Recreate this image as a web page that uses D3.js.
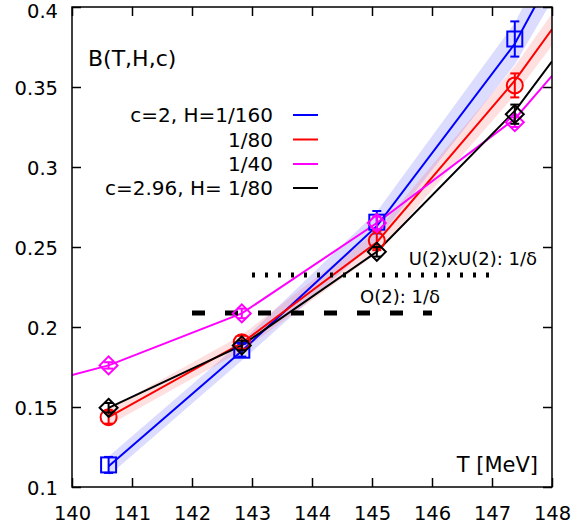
<!DOCTYPE html>
<html>
<head>
<meta charset="utf-8">
<script src="https://cdn.jsdelivr.net/npm/d3@7"></script>
<style>
body{margin:0;background:#fff;}
text{font-family:"DejaVu Sans",sans-serif;}
</style>
</head>
<body>
<svg id="chart"></svg>
<script>
// data
const temps = [140.61, 142.83, 145.08, 147.38];
const xTicks = [140, 141, 142, 143, 144, 145, 146, 147, 148];
const yTicks = [0.1, 0.15, 0.2, 0.25, 0.3, 0.35, 0.4];
const seriesNames = ["c=2, H=1/160", "1/80", "1/40", "c=2.96, H= 1/80"];

const blueVals = [0.1138, 0.1855, 0.2655, 0.380];
const blueErr = [0.005, 0.004, 0.007, 0.011];
const redVals = [0.1436, 0.1905, 0.2540, 0.351];
const redErr = [0.004, 0.004, 0.006, 0.0075];
const magVals = [0.1760, 0.2085, 0.2650, 0.328];
const magErr = [0.002, 0.003, 0.004, 0.003];
const blackVals = [0.1495, 0.1885, 0.2470, 0.333];
const blackErr = [0.003, 0.003, 0.003, 0.006];

// fit curves
const blueCurveT = [140.61, 142.83, 145.08, 147.38, 148];
const blueCurveB = [0.113, 0.185, 0.263, 0.377, 0.42];
const blueBand = [0.006, 0.006, 0.009, 0.013, 0.016];
const redCurveT = [140.61, 142.83, 145.08, 147.38, 148];
const redCurveB = [0.1436, 0.190, 0.253, 0.354, 0.386];
const redBand = [0.005, 0.005, 0.007, 0.009, 0.010];
const magCurveT = [140, 140.61, 142.83, 145.08, 147.38, 148];
const magCurveB = [0.170, 0.176, 0.2085, 0.265, 0.330, 0.357];
const blackCurveT = [140.61, 142.83, 145.08, 147.38, 148];
const blackCurveB = [0.1495, 0.1885, 0.247, 0.335, 0.366];

// reference exponents
const refLabels = ["U(2)xU(2): 1/δ", "O(2): 1/δ"];
const refVals = [0.2325, 0.2088];
const refFrom = [143, 142];
const refTo = [147, 146];

const W = 583, H = 529;
const margin = {left:72, right:31, top:7, bottom:42};
const inner_w = W - margin.left - margin.right;
const inner_h = H - margin.top - margin.bottom;

const svg = d3.select("#chart").attr("width", W).attr("height", H);

const x = d3.scaleLinear().domain([140, 148]).range([0, inner_w]);
const y = d3.scaleLinear().domain([0.1, 0.4]).range([inner_h, 0]);

const chart = svg.append("g")
    .attr("transform", `translate(${margin.left},${margin.top})`);

svg.append("defs").append("clipPath").attr("id", "clip")
    .append("rect").attr("width", inner_w).attr("height", inner_h);

// axes with inward ticks on all sides
const fs = "19.5px";
const xAxis = chart.append("g").attr("transform", `translate(0,${inner_h})`)
    .call(d3.axisBottom(x).tickValues(xTicks).tickSizeInner(-9).tickSizeOuter(0).tickPadding(19)
        .tickFormat(d3.format("d")));
const yAxis = chart.append("g")
    .call(d3.axisLeft(y).tickValues(yTicks).tickSizeInner(-9).tickSizeOuter(0).tickPadding(14)
        .tickFormat(d => String(+d.toFixed(2))));
// top label sits against the edge, nudge it down a little
yAxis.selectAll(".tick text").attr("dy", d => d == 0.4 ? "0.55em" : "0.4em");
chart.append("g")
    .call(d3.axisTop(x).tickValues(xTicks).tickSizeInner(-9).tickSizeOuter(0).tickFormat(""));
chart.append("g").attr("transform", `translate(${inner_w},0)`)
    .call(d3.axisRight(y).tickValues(yTicks).tickSizeInner(-9).tickSizeOuter(0).tickFormat(""));
chart.selectAll(".domain").remove();
chart.selectAll(".tick line").attr("stroke", "#000").attr("stroke-width", 1.5);
chart.selectAll(".tick text").attr("font-size", fs).attr("fill", "#000")
    .attr("font-family", "DejaVu Sans");

const plot = chart.append("g").attr("clip-path", "url(#clip)");

// bands
function band(ts, bs, hw, fill){
    const pts = ts.map((t, i) => ({t:t, b:bs[i], w:hw[i]}));
    plot.append("path").datum(pts)
        .attr("d", d3.area().x(d => x(d.t)).y0(d => y(d.b - d.w)).y1(d => y(d.b + d.w)))
        .attr("fill", fill).attr("stroke", "none");
}
band(blueCurveT, blueCurveB, blueBand, "rgba(60,60,255,0.18)");
band(redCurveT, redCurveB, redBand, "rgba(255,60,60,0.16)");

// lines
function curve(ts, bs, color){
    const pts = ts.map((t, i) => ({t:t, b:bs[i]}));
    plot.append("path").datum(pts)
        .attr("d", d3.line().x(d => x(d.t)).y(d => y(d.b)))
        .attr("fill", "none").attr("stroke", color).attr("stroke-width", 2);
}
curve(blueCurveT, blueCurveB, "#0000ff");
curve(redCurveT, redCurveB, "#ff0000");
curve(magCurveT, magCurveB, "#ff00ff");
curve(blackCurveT, blackCurveB, "#000000");

// reference lines
chart.append("line")
    .attr("x1", x(refFrom[0])).attr("x2", x(refTo[0]))
    .attr("y1", y(refVals[0])).attr("y2", y(refVals[0]))
    .attr("stroke", "#000").attr("stroke-width", 5).attr("stroke-dasharray", "3,10");
chart.append("line")
    .attr("x1", x(refFrom[1])).attr("x2", x(refTo[1]))
    .attr("y1", y(refVals[1])).attr("y2", y(refVals[1]))
    .attr("stroke", "#000").attr("stroke-width", 5).attr("stroke-dasharray", "13,20");
chart.append("text").attr("x", 537 - margin.left).attr("y", 265 - margin.top)
    .attr("text-anchor", "end").attr("font-size", "18px").text(refLabels[0]);
chart.append("text").attr("x", 440 - margin.left).attr("y", 303 - margin.top)
    .attr("text-anchor", "end").attr("font-size", "18px").text(refLabels[1]);

// points with error bars
function points(vals, errs, color, shape){
    const g = chart.append("g");
    const data = temps.map((t, i) => ({t:t, b:vals[i], e:errs[i]}));
    data.forEach(d => {
        const cx = x(d.t), cy = y(d.b);
        const e = g.append("g").attr("stroke", color).attr("stroke-width", 2).attr("fill", "none");
        e.append("line").attr("x1", cx).attr("x2", cx).attr("y1", y(d.b - d.e)).attr("y2", y(d.b + d.e));
        e.append("line").attr("x1", cx - 4.5).attr("x2", cx + 4.5).attr("y1", y(d.b - d.e)).attr("y2", y(d.b - d.e));
        e.append("line").attr("x1", cx - 4.5).attr("x2", cx + 4.5).attr("y1", y(d.b + d.e)).attr("y2", y(d.b + d.e));
        if (shape == "square"){
            e.append("rect").attr("x", cx - 7.5).attr("y", cy - 7.5).attr("width", 15).attr("height", 15);
        } else if (shape == "circle"){
            e.append("circle").attr("cx", cx).attr("cy", cy).attr("r", 8);
        } else {
            e.append("path").attr("d", `M${cx},${cy-9}L${cx+9},${cy}L${cx},${cy+9}L${cx-9},${cy}Z`);
        }
    });
}
points(blueVals, blueErr, "#0000ff", "square");
points(redVals, redErr, "#ff0000", "circle");
points(magVals, magErr, "#ff00ff", "diamond");
points(blackVals, blackErr, "#000000", "diamond");

// frame
chart.append("rect").attr("width", inner_w).attr("height", inner_h)
    .attr("fill", "none").attr("stroke", "#000").attr("stroke-width", 1.5);

// labels
svg.append("text").attr("x", 88).attr("y", 66).attr("font-size", "22px").text("B(T,H,c)");
svg.append("text").attr("x", 538).attr("y", 472).attr("text-anchor", "end")
    .attr("font-size", "21px").text("T [MeV]");

// legend
const legColors = ["#0000ff", "#ff0000", "#ff00ff", "#000000"];
const legY = [115, 139.5, 164, 188];
seriesNames.forEach((name, i) => {
    svg.append("text").attr("x", 273).attr("y", legY[i] + 7).attr("text-anchor", "end")
        .attr("font-size", "20px").text(name);
    svg.append("line").attr("x1", 293).attr("x2", 318).attr("y1", legY[i]).attr("y2", legY[i])
        .attr("stroke", legColors[i]).attr("stroke-width", 2);
});
</script>
</body>
</html>
